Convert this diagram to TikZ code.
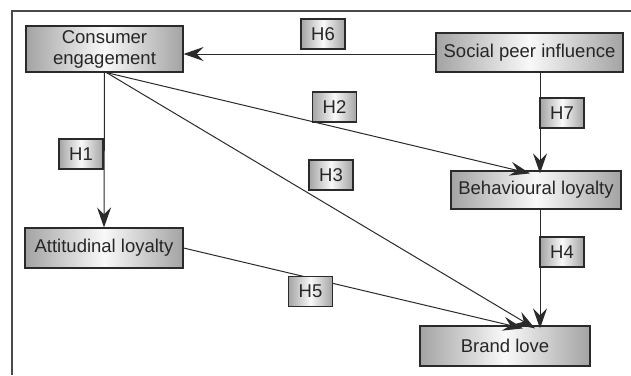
\documentclass[tikz,border=0pt]{standalone}
\usepackage{fontspec}
\setmainfont{Liberation Sans}
\usetikzlibrary{arrows.meta}
\definecolor{edge}{HTML}{2A2A2A}
\tikzset{
  box/.style={draw=edge, line width=1.2pt, inner sep=0pt, align=center,
    left color=gray!72, right color=gray!72, middle color=gray!5,
    font=\fontsize{18.5}{21}\selectfont, text=black!85},
  hyp/.style={box, minimum width=44pt, minimum height=30pt},
  link/.style={draw=edge, line width=1pt, -{Stealth[length=20pt,width=14pt,inset=7pt]}},
  frame/.style={draw=edge!85, line width=1.3pt}
}
\begin{document}
\begin{tikzpicture}[x=1pt,y=-1pt]
\useasboundingbox (0,0) rectangle (631,375);
\coordinate (ftl) at (12,11);
\coordinate (ftr) at (631,11);
\coordinate (fbl) at (12,375);
\draw[frame] (fbl) -- (ftl) -- (ftr);

\node[box, minimum width=157pt, minimum height=46pt] (ce) at (104.5,49) {Consumer\\engagement};
\node[box, minimum width=187pt, minimum height=39pt] (spi) at (529.5,52.5) {Social peer influence};
\node[box, minimum width=170pt, minimum height=38pt] (bl) at (536,190) {Behavioural loyalty};
\node[box, minimum width=158pt, minimum height=40pt] (al) at (104,248) {Attitudinal loyalty};
\node[box, minimum width=170pt, minimum height=40pt] (brl) at (505,346) {Brand love};

\draw[link] ([yshift=-1.5pt]spi.west) -- ([yshift=-1.5pt]ce.east |- spi.west);
\draw[link] (ce.south) -- (al.north);
\draw[link] ([xshift=2pt]ce.south) -- ([xshift=-6pt,yshift=-3pt]bl.north);
\draw[link] ([xshift=2pt]ce.south) -- ([xshift=30pt,yshift=-3pt]brl.north);
\draw[link] ([xshift=10.5pt]spi.south) -- ([xshift=10.5pt,yshift=-3pt]spi.south |- bl.north);
\draw[link] ([xshift=4pt]bl.south) -- ([xshift=4pt,yshift=-3pt]bl.south |- brl.north);
\draw[link] (al.east) -- ([xshift=18pt,yshift=-3pt]brl.north);

\node[hyp] (h6) at (323,34) {H6};
\node[hyp] (h1) at (81,154) {H1};
\node[hyp] (h2) at (334.5,107) {H2};
\node[hyp] (h3) at (331,175) {H3};
\node[hyp] (h7) at (562,113) {H7};
\node[hyp] (h4) at (562,252) {H4};
\node[hyp] (h5) at (310.5,291.5) {H5};
\end{tikzpicture}
\end{document}
